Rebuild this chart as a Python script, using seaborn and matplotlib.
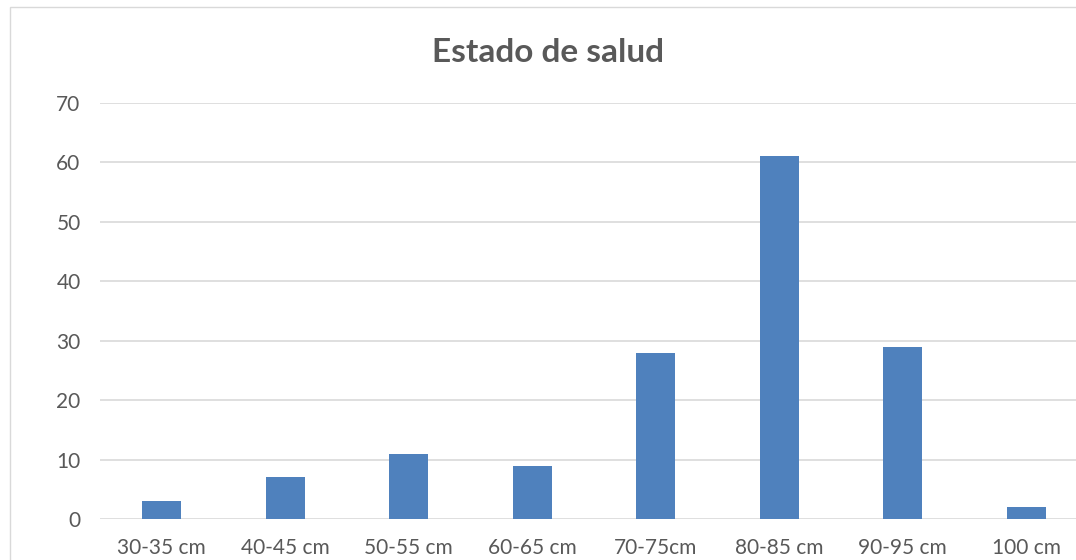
import matplotlib.pyplot as plt
import seaborn as sns
import pandas as pd
from matplotlib.patches import Rectangle

sns.set_style("white")
plt.rcParams['font.family'] = ['Lato', 'DejaVu Sans']

categories = ['30-35 cm', '40-45 cm', '50-55 cm', '60-65 cm', '70-75cm', '80-85 cm', '90-95 cm', '100 cm']
counts = [3, 7, 11, 9, 28, 61, 29, 2]
df = pd.DataFrame({'Talla': categories, 'Cantidad': counts})

fig = plt.figure(figsize=(10.76, 5.6), dpi=100)
ax = fig.add_axes([100 / 1076, 41 / 560, 988 / 1076, 416 / 560])

sns.barplot(data=df, x='Talla', y='Cantidad', color='#4f81bd', width=0.315,
            saturation=1, edgecolor='none', ax=ax)

ax.set_ylim(0, 70)
ax.set_yticks(range(0, 71, 10))
ax.grid(axis='y', color='#d9d9d9', linewidth=1.2)
ax.set_axisbelow(True)
for s in ax.spines.values():
    s.set_visible(False)
ax.tick_params(axis='both', length=0, colors='#595959', labelsize=15)
ax.tick_params(axis='y', pad=14)
ax.tick_params(axis='x', pad=14)
ax.set_xlabel('')
ax.set_ylabel('')

fig.text(548 / 1076, 1 - 53 / 560, 'Estado de salud', ha='center', va='center',
         fontsize=24, fontweight='bold', color='#595959')

# chart border like the spreadsheet frame
fig.patches.append(Rectangle((10 / 1076, -0.1), 1.2, (560 - 7) / 560 + 0.1,
                             transform=fig.transFigure, fill=False,
                             edgecolor='#d9d9d9', linewidth=1))

fig.savefig('out.png', dpi=100)
